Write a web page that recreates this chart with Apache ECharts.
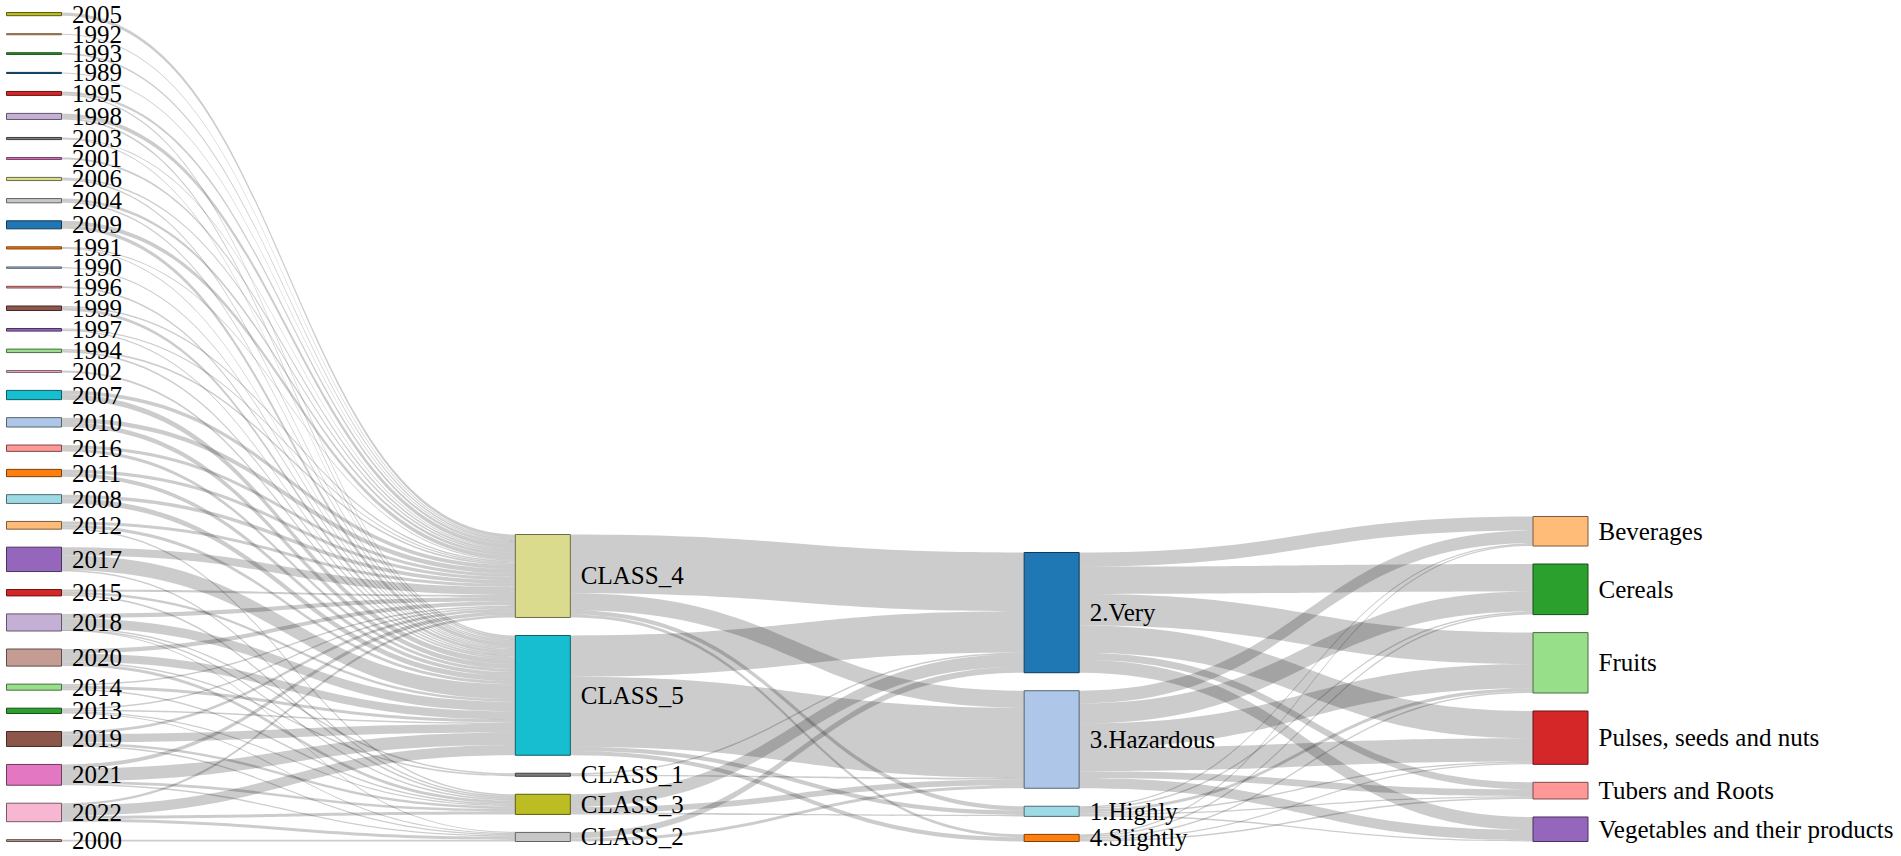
<!DOCTYPE html>
<html>
<head>
<meta charset="utf-8">
<script src="https://cdn.jsdelivr.net/npm/echarts@6/dist/echarts.min.js"></script>
<style>
html,body{margin:0;padding:0;background:#fff;width:1901px;height:856px;overflow:hidden;}
#wrap{position:relative;width:1901px;height:856px;overflow:hidden;}
#chart{position:absolute;left:0;top:0;width:856px;height:1901px;transform-origin:0 0;transform:translateY(856px) rotate(-90deg);}
</style>
</head>
<body>
<div id="wrap"><div id="chart"></div></div>
<script>
// ---- categories (top-to-bottom as shown) ----
const years = ['2005','1992','1993','1989','1995','1998','2003','2001','2006','2004','2009','1991','1990','1996','1999','1997','1994','2002','2007','2010','2016','2011','2008','2012','2017','2015','2018','2020','2014','2013','2019','2021','2022','2000'];
const classes = ['CLASS_4','CLASS_5','CLASS_1','CLASS_3','CLASS_2'];
const hazards = ['2.Very','3.Hazardous','1.Highly','4.Slightly'];
const foods = ['Beverages','Cereals','Fruits','Pulses, seeds and nuts','Tubers and Roots','Vegetables and their products'];

// ---- year -> class values (aligned with years) ----
const yearToClass4 = [21,7,11,7,17,28,7,12,11,18,27,7,0,0,10,8,11,0,26,31,21,22,24,20,53,14,27,28,10,10,18,26,16,0];
const yearToClass5 = [0,0,0,0,9,12,7,0,10,10,26,7,9,11,20,9,12,12,35,31,21,26,34,21,98,17,63,55,20,10,55,84,67,0];
const yearToClass1 = [0,0,0,0,0,0,0,0,0,0,0,0,0,0,0,0,0,0,0,0,0,0,0,0,0,0,10,10,0,0,0,0,0,0];
const yearToClass3 = [0,0,0,0,0,0,0,0,0,0,0,0,0,0,0,0,0,0,0,0,0,0,0,10,10,11,10,20,10,8,17,18,19,0];
const yearToClass2 = [0,0,0,0,0,0,0,0,0,0,0,0,0,0,0,0,0,0,0,0,0,0,0,0,0,0,3,0,0,7,9,9,20,12];

// ---- class -> hazard values (aligned with classes) ----
const classToVery      = [388,272,10,84,40];
const classToHazardous = [113,463,10,38,20];
const classToHighly    = [28,28,0,11,0];
const classToSlightly  = [19,28,0,0,0];

// ---- hazard -> food values (aligned with foods) ----
const veryToFood      = [93,181,208,180,46,86];
const hazardousToFood = [84,133,160,154,46,67];
const highlyToFood    = [9,10,21,9,9,9];
const slightlyToFood  = [9,10,10,9,9,0];

const palette = ['#1f77b4','#aec7e8','#ff7f0e','#ffbb78','#2ca02c','#98df8a','#d62728','#ff9896','#9467bd','#c5b0d5','#8c564b','#c49c94','#e377c2','#f7b6d2','#7f7f7f','#c7c7c7','#bcbd22','#dbdb8d','#17becf','#9edae5'];
function darker(hex){
  const k = 0.49;
  const r = Math.round(parseInt(hex.slice(1,3),16)*k);
  const g = Math.round(parseInt(hex.slice(3,5),16)*k);
  const b = Math.round(parseInt(hex.slice(5,7),16)*k);
  return 'rgb(' + r + ',' + g + ',' + b + ')';
}
// colour order follows the source data order: years chronologically, then classes, hazards, foods
const colourOrder = years.slice().sort()
  .concat(classes.slice().sort(), hazards.slice().sort(), foods.slice().sort());
function nodeOf(name){
  const c = palette[colourOrder.indexOf(name) % palette.length];
  return { name: name, itemStyle: { color: c, borderColor: darker(c), borderWidth: 1 } };
}
// the chart is drawn rotated (columns stack from the bottom), so each column is listed bottom-to-top
const nodes = [].concat(
  years.slice().reverse().map(nodeOf),
  classes.slice().reverse().map(nodeOf),
  hazards.slice().reverse().map(nodeOf),
  foods.slice().reverse().map(nodeOf)
);

const links = [];
function addIn(sources, target, values){
  values.forEach(function(v, i){ if (v > 0) links.push({ source: sources[i], target: target, value: v }); });
}
addIn(years, 'CLASS_4', yearToClass4);
addIn(years, 'CLASS_5', yearToClass5);
addIn(years, 'CLASS_1', yearToClass1);
addIn(years, 'CLASS_3', yearToClass3);
addIn(years, 'CLASS_2', yearToClass2);
addIn(classes, '2.Very', classToVery);
addIn(classes, '3.Hazardous', classToHazardous);
addIn(classes, '1.Highly', classToHighly);
addIn(classes, '4.Slightly', classToSlightly);
function addOut(source, values){
  values.forEach(function(v, i){ if (v > 0) links.push({ source: source, target: foods[i], value: v }); });
}
addOut('2.Very', veryToFood);
addOut('3.Hazardous', hazardousToFood);
addOut('1.Highly', highlyToFood);
addOut('4.Slightly', slightlyToFood);

const chart = echarts.init(document.getElementById('chart'), null, { renderer: 'svg', width: 856, height: 1901 });
chart.setOption({
  animation: false,
  backgroundColor: '#ffffff',
  series: [{
    type: 'sankey',
    orient: 'vertical',
    left: 14.5,
    right: 12.5,
    top: 6.5,
    bottom: 313,
    nodeWidth: 55,
    nodeGap: 18,
    layoutIterations: 0,
    nodeAlign: 'justify',
    draggable: false,
    emphasis: { focus: 'none' },
    label: {
      show: true,
      position: 'bottom',
      distance: 10,
      rotate: -90,
      align: 'left',
      verticalAlign: 'middle',
      fontFamily: 'Liberation Serif, Times New Roman, serif',
      fontSize: 25,
      color: '#000'
    },
    lineStyle: { color: '#000', opacity: 0.2, curveness: 0.5 },
    data: nodes,
    links: links
  }]
});
</script>
</body>
</html>
